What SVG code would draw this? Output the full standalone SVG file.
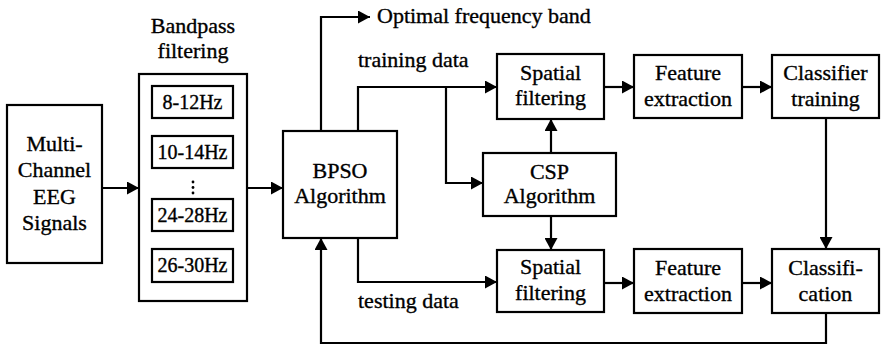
<svg xmlns="http://www.w3.org/2000/svg" width="881" height="346" viewBox="0 0 881 346">
<style>
.box{fill:#fff;stroke:#000;stroke-width:2.2}
.t{font-family:"Liberation Serif","Times New Roman",serif;font-size:22px;fill:#000;stroke:#000;stroke-width:0.35;text-anchor:middle}
.s{font-size:20px}
.l{text-anchor:start}
.c{fill:none;stroke:#000;stroke-width:2.2}
</style>
<defs>
<marker id="ah" markerUnits="userSpaceOnUse" markerWidth="13" markerHeight="13" refX="12" refY="6.5" orient="auto">
<path d="M0,0 L12,6.5 L0,13 z" fill="#000"/>
</marker>
</defs>
<rect width="881" height="346" fill="#fff"/>
<g id="connectors" class="c" marker-end="url(#ah)">
<path class="c" d="M102,188 H139" marker-end="url(#ah)"/>
<path class="c" d="M247,188 H283" marker-end="url(#ah)"/>
<path class="c" d="M321,131 V17 H370" marker-end="url(#ah)"/>
<path class="c" d="M358,131 V87 H497" marker-end="url(#ah)"/>
<path class="c" d="M446,87 V183 H483" marker-end="url(#ah)"/>
<path class="c" d="M551,153 V119" marker-end="url(#ah)"/>
<path class="c" d="M551,216 V250" marker-end="url(#ah)"/>
<path class="c" d="M358,238 V282 H497" marker-end="url(#ah)"/>
<path class="c" d="M604,87 H634" marker-end="url(#ah)"/>
<path class="c" d="M742,87 H772" marker-end="url(#ah)"/>
<path class="c" d="M604,283 H634" marker-end="url(#ah)"/>
<path class="c" d="M742,283 H772" marker-end="url(#ah)"/>
<path class="c" d="M826,118 V249" marker-end="url(#ah)"/>
<path class="c" d="M826,313 V343 H321 V238" marker-end="url(#ah)"/>
</g>
<g id="eeg">
<rect class="box" x="7" y="105" width="95" height="158"/>
<text class="t" x="54.5" y="151">Multi-</text>
<text class="t" x="54.5" y="177">Channel</text>
<text class="t" x="54.5" y="204">EEG</text>
<text class="t" x="54.5" y="230">Signals</text>
</g>
<g id="bandpass">
<text class="t" x="193" y="33">Bandpass</text>
<text class="t" x="193" y="58">filtering</text>
<rect class="box" x="139" y="74" width="108" height="227"/>
<rect class="box" x="152" y="86" width="81" height="32"/>
<text class="t s" x="192.5" y="109">8-12Hz</text>
<rect class="box" x="152" y="136" width="81" height="32"/>
<text class="t s" x="192.5" y="159">10-14Hz</text>
<circle cx="193" cy="182" r="1.4" fill="#000"/>
<circle cx="193" cy="187.5" r="1.4" fill="#000"/>
<circle cx="193" cy="193" r="1.4" fill="#000"/>
<rect class="box" x="152" y="199" width="81" height="32"/>
<text class="t s" x="192.5" y="222">24-28Hz</text>
<rect class="box" x="152" y="249" width="81" height="33"/>
<text class="t s" x="192.5" y="272">26-30Hz</text>
</g>
<g id="bpso">
<rect class="box" x="283" y="131" width="114" height="107"/>
<text class="t" x="340" y="178">BPSO</text>
<text class="t" x="340" y="203">Algorithm</text>
</g>
<g id="labels">
<text class="t l" x="377" y="23">Optimal frequency band</text>
<text class="t l" x="358" y="67">training data</text>
<text class="t l" x="358" y="308">testing data</text>
</g>
<g id="spatial-train">
<rect class="box" x="497" y="54" width="107" height="65"/>
<text class="t" x="550.5" y="80">Spatial</text>
<text class="t" x="550.5" y="105">filtering</text>
</g>
<g id="csp">
<rect class="box" x="483" y="153" width="133" height="63"/>
<text class="t" x="549.5" y="179">CSP</text>
<text class="t" x="549.5" y="203">Algorithm</text>
</g>
<g id="spatial-test">
<rect class="box" x="497" y="250" width="107" height="62"/>
<text class="t" x="550.5" y="274">Spatial</text>
<text class="t" x="550.5" y="300">filtering</text>
</g>
<g id="feature-train">
<rect class="box" x="634" y="55" width="108" height="63"/>
<text class="t" x="688" y="80">Feature</text>
<text class="t" x="688" y="106">extraction</text>
</g>
<g id="classifier-train">
<rect class="box" x="772" y="55" width="107" height="63"/>
<text class="t" x="825.5" y="80">Classifier</text>
<text class="t" x="825.5" y="106">training</text>
</g>
<g id="feature-test">
<rect class="box" x="634" y="249" width="108" height="64"/>
<text class="t" x="688" y="275">Feature</text>
<text class="t" x="688" y="301">extraction</text>
</g>
<g id="classification">
<rect class="box" x="772" y="249" width="107" height="64"/>
<text class="t" x="825.5" y="275">Classifi-</text>
<text class="t" x="825.5" y="301">cation</text>
</g>
</svg>
